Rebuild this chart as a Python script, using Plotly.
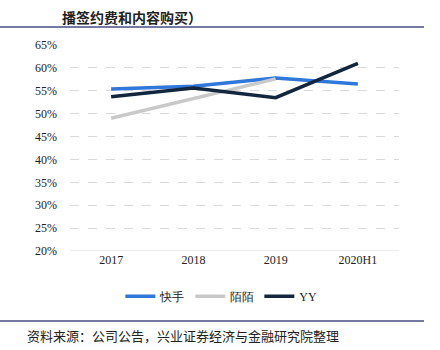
import plotly.graph_objects as go

categories = ["2017", "2018", "2019", "2020H1"]
kuaishou = [55.4, 56.0, 57.8, 56.5]
momo = [49.0, 53.3, 57.6, None]
yy = [53.7, 55.6, 53.5, 61.0]
y_ticks = [20, 25, 30, 35, 40, 45, 50, 55, 60, 65]
y_labels = [f"{v}%" for v in y_ticks]

fig = go.Figure()
fig.add_trace(go.Scatter(x=categories, y=kuaishou, name="快手", mode="lines",
                         line=dict(color="#2F77DA", width=3.5)))
fig.add_trace(go.Scatter(x=categories, y=momo, name="陌陌", mode="lines",
                         line=dict(color="#C9C9C9", width=3.5)))
fig.add_trace(go.Scatter(x=categories, y=yy, name="YY", mode="lines",
                         line=dict(color="#12263D", width=3.5)))

serif = "Liberation Serif, Times New Roman, serif"
cjk = "Noto Sans CJK SC"

fig.update_layout(
    width=440, height=350,
    margin=dict(l=70, r=41, t=45, b=99),
    paper_bgcolor="white", plot_bgcolor="white",
    font=dict(family=serif, size=12, color="#333333"),
    xaxis=dict(type="category", range=[-0.5, 3.5], showgrid=False,
               showline=False, ticks="", tickfont=dict(family=serif, size=12, color="#222")),
    yaxis=dict(range=[20, 65], tickvals=y_ticks, ticktext=y_labels,
               showgrid=True, gridcolor="#D9D9D9", griddash="dash", gridwidth=1,
               zeroline=False, showline=False, ticks="", ticklabelstandoff=12,
               tickfont=dict(family=serif, size=12, color="#222")),
    legend=dict(orientation="h", x=0.46, xanchor="center", y=-0.22, yanchor="middle",
                font=dict(family=serif, size=12, color="#222"), itemwidth=30,
                tracegroupgap=0),
    showlegend=True,
)
# solid baseline at 20%
fig.add_shape(type="line", xref="paper", yref="y", x0=0, x1=1, y0=20, y1=20,
              line=dict(color="#D9D9D9", width=1))
# horizontal rules (top and bottom)
fig.add_shape(type="line", xref="paper", yref="paper", x0=-70/329, x1=354/329,
              y0=(251-27)/206, y1=(251-27)/206, line=dict(color="#4A4E80", width=1.5))
fig.add_shape(type="line", xref="paper", yref="paper", x0=-70/329, x1=354/329,
              y0=(251-321)/206, y1=(251-321)/206, line=dict(color="#4A4E80", width=1.5))
fig.add_annotation(text="<b>播签约费和内容购买）</b>", xref="paper", yref="paper",
                   x=(60-70)/329, y=(251-17)/206, xanchor="left", yanchor="middle",
                   showarrow=False, font=dict(family=cjk, size=14, color="#222"))
fig.add_annotation(text="资料来源：公司公告，兴业证券经济与金融研究院整理", xref="paper", yref="paper",
                   x=(25-70)/329, y=(251-335)/206, xanchor="left", yanchor="middle",
                   showarrow=False, font=dict(family=cjk, size=13, color="#222"))

fig.write_html("out.html")
